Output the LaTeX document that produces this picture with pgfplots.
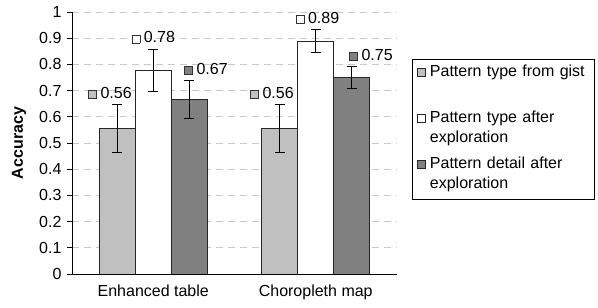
\documentclass[border=0pt]{standalone}
\usepackage{pgfplots}
\pgfplotsset{compat=1.18}
\usepackage{fontspec}
\setmainfont{Liberation Sans}
\definecolor{barA}{HTML}{C0C0C0}
\definecolor{barB}{HTML}{FFFFFF}
\definecolor{barC}{HTML}{808080}
\definecolor{gridc}{HTML}{C8C8C8}
\newcommand{\swatch}[1]{{\setlength{\fboxsep}{0pt}\setlength{\fboxrule}{0.6pt}\fcolorbox{black!80}{#1}{\rule{0pt}{7.5pt}\rule{7.5pt}{0pt}}}}
\begin{document}
\begin{tikzpicture}
\fontsize{16}{19}\selectfont
\begin{axis}[
  at={(0pt,0pt)}, anchor=south west,
  scale only axis, width=325pt, height=262pt,
  xmin=-0.5, xmax=1.5, ymin=0, ymax=1,
  ybar, bar width=36pt,
  axis x line=bottom, axis y line=left,
  axis line style={-, black, line width=0.8pt},
  xtick={0,1}, xticklabels={Enhanced table, Choropleth map},
  x tick style={draw=none},
  ytick={0,0.1,...,1.0},
  yticklabel style={/pgf/number format/fixed, /pgf/number format/precision=1, /pgf/number format/assume math mode=true},
  y tick style={black, line width=0.8pt},
  tick align=outside, major tick length=5pt,
  ymajorgrids, grid style={gridc, dash pattern=on 7pt off 5pt, line width=0.8pt},
  tick label style={font=\fontsize{16}{19}\selectfont},
  ylabel={\textbf{Accuracy}},
  ylabel style={at={(axis description cs:-0.163,0.5)}, anchor=center, font=\fontsize{16}{19}\selectfont},
  legend style={at={(1.046,0.822)}, anchor=north west, draw=black, line width=0.6pt,
    font=\fontsize{16}{20}\selectfont, row sep=4pt, inner xsep=3pt, inner ysep=3pt,
    nodes={inner sep=1pt, align=left, text width=160pt, text height=14pt, text depth=26pt}},
  legend cell align=left,
]
\addplot[bar shift=-36pt, fill=barA, draw=black!85, line width=0.7pt,
  legend image code/.code={\path (-2pt,0pt) (11pt,0pt); \draw[fill=barA, draw=black!85, line width=0.6pt] (0pt,7pt) rectangle (7.5pt,14.5pt);},
  error bars/.cd, y dir=both, y explicit, error bar style={black, line width=0.7pt}, error mark options={black, line width=0.7pt, mark size=5pt, rotate=90},
  ] coordinates {(0,0.556) +- (0,0.092) (1,0.556) +- (0,0.092)};
\addlegendentry{Pattern type from gist}
\addplot[bar shift=0pt, fill=barB, draw=black!85, line width=0.7pt,
  legend image code/.code={\path (-2pt,0pt) (11pt,0pt); \draw[fill=barB, draw=black!85, line width=0.6pt] (0pt,7pt) rectangle (7.5pt,14.5pt);},
  error bars/.cd, y dir=both, y explicit, error bar style={black, line width=0.7pt}, error mark options={black, line width=0.7pt, mark size=5pt, rotate=90},
  ] coordinates {(0,0.778) +- (0,0.08) (1,0.889) +- (0,0.043)};
\addlegendentry{Pattern type after\\exploration}
\addplot[bar shift=36pt, fill=barC, draw=black!85, line width=0.7pt,
  legend image code/.code={\path (-2pt,0pt) (11pt,0pt); \draw[fill=barC, draw=black!85, line width=0.6pt] (0pt,7pt) rectangle (7.5pt,14.5pt);},
  error bars/.cd, y dir=both, y explicit, error bar style={black, line width=0.7pt}, error mark options={black, line width=0.7pt, mark size=5pt, rotate=90},
  ] coordinates {(0,0.667) +- (0,0.073) (1,0.75) +- (0,0.041)};
\addlegendentry{Pattern detail after\\exploration}
% data labels
\addplot[forget plot, bar shift=0pt, draw=none, fill=none, point meta=explicit symbolic,
  nodes near coords={\swatch{barA}\hspace{3.5pt}\pgfplotspointmeta},
  every node near coord/.style={anchor=center, inner sep=0pt, font=\fontsize{16}{19}\selectfont}]
  coordinates {(-0.266,0.691)[0.56] (0.731,0.691)[0.56]};
\addplot[forget plot, bar shift=0pt, draw=none, fill=none, point meta=explicit symbolic,
  nodes near coords={\swatch{barB}\hspace{3.5pt}\pgfplotspointmeta},
  every node near coord/.style={anchor=center, inner sep=0pt, font=\fontsize{16}{19}\selectfont}]
  coordinates {(0.0,0.903)[0.78] (1.011,0.977)[0.89]};
\addplot[forget plot, bar shift=0pt, draw=none, fill=none, point meta=explicit symbolic,
  nodes near coords={\swatch{barC}\hspace{3.5pt}\pgfplotspointmeta},
  every node near coord/.style={anchor=center, inner sep=0pt, font=\fontsize{16}{19}\selectfont}]
  coordinates {(0.325,0.782)[0.67] (1.34,0.836)[0.75]};
\end{axis}
\pgfresetboundingbox
\path[use as bounding box] (-72pt,-34pt) rectangle (526pt,274pt);
\end{tikzpicture}
\end{document}
